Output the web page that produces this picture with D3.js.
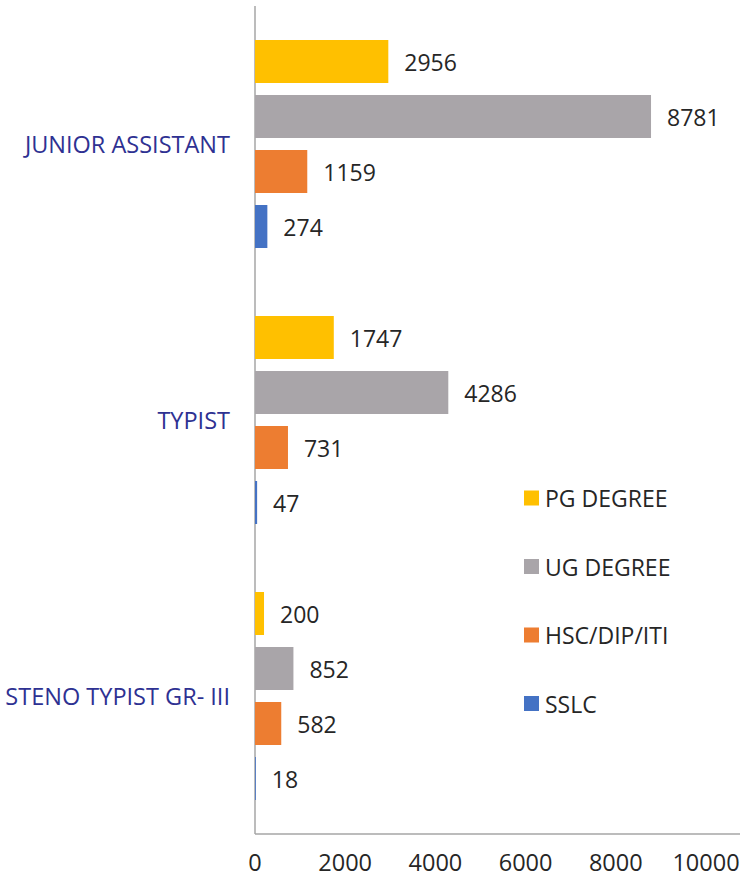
<!DOCTYPE html>
<html><head><meta charset="utf-8">
<script src="https://cdn.jsdelivr.net/npm/d3@7"></script>
<style>body{margin:0;background:#fff;}svg{display:block;font-family:"Open Sans","Noto Sans",sans-serif;}</style>
</head><body>
<svg id="c" width="744" height="883"></svg>
<script>
const categories = ["JUNIOR ASSISTANT", "TYPIST", "STENO TYPIST GR- III"];
const seriesNames = ["PG DEGREE", "UG DEGREE", "HSC/DIP/ITI", "SSLC"];
const pgDegree = [2956, 1747, 200];
const ugDegree = [8781, 4286, 852];
const hscDipIti = [1159, 731, 582];
const sslc = [274, 47, 18];
const xTicks = [0, 2000, 4000, 6000, 8000, 10000];
const colors = ["#FFC000", "#A9A5A9", "#ED7D31", "#4472C4"];

const seriesValues = [pgDegree, ugDegree, hscDipIti, sslc];
const svg = d3.select("#c");
const x0 = 255, y0 = 6, y1 = 834;
const x = d3.scaleLinear().domain([0, 10000]).range([x0, 706]);
const y = d3.scaleBand().domain(categories).range([y0, y1]).paddingInner(68/276).paddingOuter(34/276);
const ys = d3.scaleBand().domain(seriesNames).range([0, y.bandwidth()]).paddingInner(12/55);

// axes lines
svg.append("line").attr("x1", x0).attr("x2", x0).attr("y1", y0).attr("y2", y1)
  .attr("stroke", "#A6A6A6").attr("stroke-width", 1.5);
svg.append("line").attr("x1", x0).attr("x2", 740).attr("y1", y1).attr("y2", y1)
  .attr("stroke", "#A6A6A6").attr("stroke-width", 1.5);

// x tick labels
svg.append("g").selectAll("text").data(xTicks).join("text")
  .attr("x", d => x(d)).attr("y", 862).attr("text-anchor", "middle").attr("dominant-baseline", "central")
  .attr("font-size", 23.5).attr("fill", "#262626").text(d => d);

// category labels
svg.append("g").selectAll("text").data(categories).join("text")
  .attr("x", 230).attr("y", d => y(d) + y.bandwidth()/2).attr("text-anchor", "end")
  .attr("dominant-baseline", "central").attr("font-size", 23.5).attr("fill", "#2E3192").text(d => d);

// bars
const data = [];
categories.forEach((c, ci) => seriesNames.forEach((s, si) => data.push({c, s, si, v: seriesValues[si][ci]})));
const g = svg.append("g");
g.selectAll("rect").data(data).join("rect")
  .attr("x", x(0)).attr("y", d => y(d.c) + ys(d.s))
  .attr("width", d => Math.max(0, x(d.v) - x(0))).attr("height", ys.bandwidth())
  .attr("fill", d => colors[d.si]);
g.selectAll("text").data(data).join("text")
  .attr("x", d => x(d.v) + 16).attr("y", d => y(d.c) + ys(d.s) + ys.bandwidth()/2)
  .attr("dominant-baseline", "central").attr("font-size", 23).attr("fill", "#262626").text(d => d.v);

// legend
const lg = svg.append("g").selectAll("g").data(seriesNames).join("g")
  .attr("transform", (d, i) => `translate(524, ${498 + i*68.5})`);
lg.append("rect").attr("x", 0).attr("y", -7.5).attr("width", 15).attr("height", 15).attr("fill", (d, i) => colors[i]);
lg.append("text").attr("x", 21).attr("y", 0).attr("dominant-baseline", "central")
  .attr("font-size", 23).attr("fill", "#262626").text(d => d);
</script>
</body></html>
